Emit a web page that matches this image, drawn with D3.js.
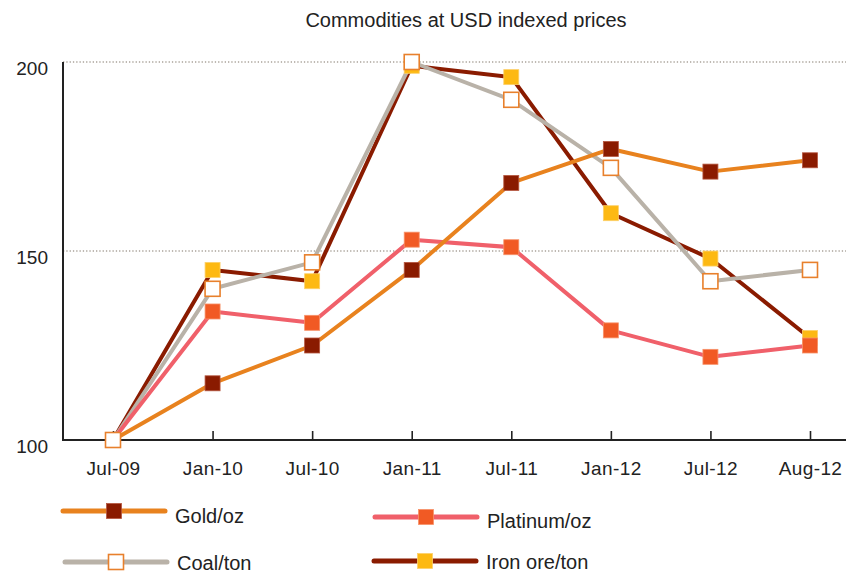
<!DOCTYPE html>
<html>
<head>
<meta charset="utf-8">
<script src="https://cdn.jsdelivr.net/npm/d3@7"></script>
<style>
  body { margin: 0; background: #fff; }
  svg text { font-family: "Liberation Sans", Arial, sans-serif; fill: #222; }
</style>
</head>
<body>
<div id="chart"></div>
<script>
const periods = ["Jul-09", "Jan-10", "Jul-10", "Jan-11", "Jul-11", "Jan-12", "Jul-12", "Aug-12"];
const gold = [100, 115, 125, 145, 168, 177, 171, 174];
const platinum = [100, 134, 131, 153, 151, 129, 122, 125];
const coal = [100, 140, 147, 200, 190, 172, 142, 145];
const ironOre = [100, 145, 142, 199, 196, 160, 148, 127];
const yTicks = [100, 150, 200];

const series = [
	{ name: "Gold/oz", values: gold, line: "#e8821e", fill: "#8a1b00", stroke: "#b5563f" },
	{ name: "Platinum/oz", values: platinum, line: "#f0606a", fill: "#f15a24", stroke: "#f7926a" },
	{ name: "Coal/ton", values: coal, line: "#b9b2a8", fill: "#ffffff", stroke: "#e8802c" },
	{ name: "Iron ore/ton", values: ironOre, line: "#8a1b00", fill: "#fdb913", stroke: "#fdd06a" },
];
const byName = (n) => series.find((s) => s.name === n);

const width = 846, height = 574;
const svg = d3.select("#chart").append("svg")
	.attr("width", width)
	.attr("height", height);

const x = d3.scalePoint().domain(periods).range([113, 810]);
const y = d3.scaleLinear().domain([100, 200]).range([440, 62]);
const left = 63, right = 846;

// title
svg.append("text")
	.attr("x", 466).attr("y", 27)
	.attr("text-anchor", "middle")
	.style("font-size", "20px")
	.text("Commodities at USD indexed prices");

// gridlines
svg.append("g").selectAll("line")
	.data(yTicks.filter((d) => d > 100))
	.enter().append("line")
	.attr("x1", left).attr("x2", right)
	.attr("y1", (d) => y(d)).attr("y2", (d) => y(d))
	.attr("stroke", "#aaa39a")
	.attr("stroke-width", 1.3)
	.attr("stroke-dasharray", "1.3,2");

// y axis labels
const yAxis = svg.append("g")
	.attr("transform", `translate(${left},0)`)
	.call(d3.axisLeft(y).tickValues(yTicks).tickSize(0).tickPadding(15));
yAxis.select(".domain").remove();
yAxis.selectAll("text").attr("dy", "0.68em").style("font-size", "19px").attr("fill", "#222");

// x axis
const xAxis = svg.append("g")
	.attr("transform", `translate(0,${y(100)})`)
	.call(d3.axisBottom(x).tickSize(-9).tickPadding(22));
xAxis.select(".domain").remove();
xAxis.selectAll("line").attr("stroke", "#222").attr("stroke-width", 1.6);
xAxis.selectAll("text").style("font-size", "19px").style("letter-spacing", "0.4px").attr("fill", "#222");

svg.append("line")
	.attr("x1", left).attr("x2", right)
	.attr("y1", y(100)).attr("y2", y(100))
	.attr("stroke", "#222").attr("stroke-width", 2);
svg.append("line")
	.attr("x1", left).attr("x2", left)
	.attr("y1", y(200)).attr("y2", y(100) + 1)
	.attr("stroke", "#222").attr("stroke-width", 2);

// lines
const line = d3.line()
	.x((d, i) => x(periods[i]))
	.y((d) => y(d));
const lineOrder = ["Iron ore/ton", "Coal/ton", "Platinum/oz", "Gold/oz"].map(byName);
svg.append("g").selectAll("path")
	.data(lineOrder)
	.enter().append("path")
	.attr("d", (s) => line(s.values))
	.attr("fill", "none")
	.attr("stroke", (s) => s.line)
	.attr("stroke-width", 4)
	.attr("stroke-linejoin", "round");

// markers
const ms = 15;
const markerOrder = ["Iron ore/ton", "Gold/oz", "Platinum/oz", "Coal/ton"].map(byName);
markerOrder.forEach((s) => {
	svg.append("g").selectAll("rect")
		.data(s.values)
		.enter().append("rect")
		.attr("x", (d, i) => x(periods[i]) - ms / 2)
		.attr("y", (d) => y(d) - ms / 2)
		.attr("width", ms).attr("height", ms)
		.attr("fill", s.fill)
		.attr("stroke", s.stroke)
		.attr("stroke-width", s.name === "Coal/ton" ? 1.6 : 0.8);
});

// legend
const legendPos = [
	{ name: "Gold/oz", x: 63, y: 511, ty: 523 },
	{ name: "Platinum/oz", x: 375, y: 517, ty: 528 },
	{ name: "Coal/ton", x: 65, y: 562, ty: 570 },
	{ name: "Iron ore/ton", x: 374, y: 561, ty: 569 },
];
const legend = svg.append("g").selectAll("g")
	.data(legendPos)
	.enter().append("g")
	.attr("transform", (d) => `translate(${d.x},${d.y})`);
legend.append("line")
	.attr("x1", 0).attr("x2", 102)
	.attr("stroke", (d) => byName(d.name).line)
	.attr("stroke-width", 5)
	.attr("stroke-linecap", "round");
legend.append("rect")
	.attr("x", 51 - ms / 2).attr("y", -ms / 2)
	.attr("width", ms).attr("height", ms)
	.attr("fill", (d) => byName(d.name).fill)
	.attr("stroke", (d) => byName(d.name).stroke)
	.attr("stroke-width", (d) => d.name === "Coal/ton" ? 1.6 : 0.8);
legend.append("text")
	.attr("x", 112)
	.attr("y", (d) => d.ty - d.y)
	.style("font-size", "20px")
	.text((d) => d.name);
</script>
</body>
</html>
